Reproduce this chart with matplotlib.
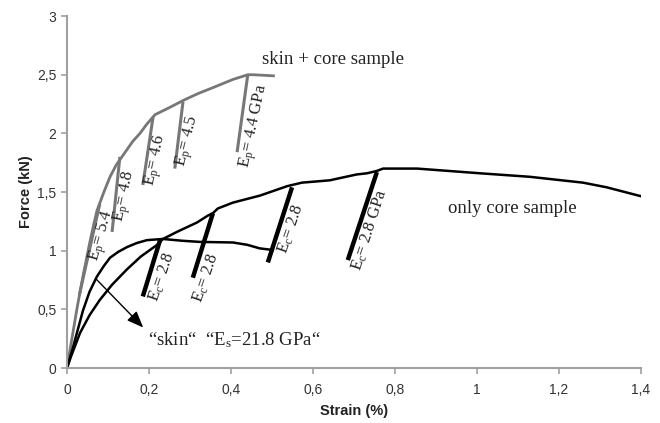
import matplotlib
matplotlib.use("Agg")
import matplotlib.pyplot as plt

# ---- data ----
skin_core_x = [0.0, 0.012, 0.025, 0.04, 0.055, 0.065, 0.073, 0.09, 0.105, 0.12, 0.134, 0.146,
               0.16, 0.178, 0.195, 0.215, 0.25, 0.283, 0.32, 0.356, 0.405, 0.441, 0.454, 0.507]
skin_core_y = [0.0, 0.25, 0.52, 0.80, 1.06, 1.22, 1.34, 1.50, 1.63, 1.73, 1.80, 1.86,
               1.93, 2.00, 2.08, 2.16, 2.22, 2.28, 2.34, 2.39, 2.46, 2.50, 2.50, 2.49]

core_x = [0.0, 0.01, 0.032, 0.055, 0.080, 0.11, 0.146, 0.18, 0.220, 0.234, 0.268, 0.317, 0.344,
          0.356, 0.368, 0.405, 0.471, 0.537, 0.549, 0.573, 0.641, 0.707, 0.732, 0.756, 0.771,
          0.854, 1.007, 1.129, 1.259, 1.317, 1.405]
core_y = [0.0, 0.10, 0.30, 0.45, 0.58, 0.71, 0.84, 0.95, 1.05, 1.10, 1.16, 1.24, 1.30,
          1.32, 1.36, 1.41, 1.47, 1.55, 1.56, 1.58, 1.60, 1.65, 1.66, 1.68, 1.70,
          1.70, 1.66, 1.63, 1.58, 1.54, 1.46]

skin_x = [0.0, 0.015, 0.039, 0.055, 0.073, 0.09, 0.105, 0.125, 0.146, 0.17, 0.195, 0.234,
          0.28, 0.324, 0.405, 0.44, 0.47, 0.502]
skin_y = [0.0, 0.18, 0.49, 0.65, 0.78, 0.87, 0.94, 0.99, 1.03, 1.065, 1.09, 1.10,
          1.085, 1.075, 1.07, 1.05, 1.02, 1.006]

# tangent (modulus) lines: [x_start, x_end], [y_start, y_end]
ep_lines = [([0.030, 0.080], [0.62, 1.40]),
            ([0.110, 0.129], [1.16, 1.80]),
            ([0.185, 0.210], [1.56, 2.14]),
            ([0.263, 0.283], [1.70, 2.27]),
            ([0.415, 0.441], [1.84, 2.50])]
ec_lines = [([0.185, 0.227], [0.61, 1.09]),
            ([0.307, 0.356], [0.77, 1.32]),
            ([0.490, 0.549], [0.90, 1.54]),
            ([0.685, 0.756], [0.92, 1.67])]

ep_labels = [r"E$_\mathrm{p}$= 5.4", r"E$_\mathrm{p}$= 4.8", r"E$_\mathrm{p}$= 4.6",
             r"E$_\mathrm{p}$= 4.5", r"E$_\mathrm{p}$= 4.4 GPa"]
ep_label_pos = [(0.086, 1.13), (0.143, 1.46), (0.217, 1.77), (0.295, 1.93), (0.457, 2.06)]
ep_label_rot = [74, 78, 78, 76, 78]

ec_labels = [r"E$_\mathrm{c}$= 2.8", r"E$_\mathrm{c}$= 2.8", r"E$_\mathrm{c}$= 2.8",
             r"E$_\mathrm{c}$= 2.8 GPa"]
ec_label_pos = [(0.231, 0.78), (0.339, 0.77), (0.548, 1.19), (0.738, 1.18)]
ec_label_rot = [71, 71, 71, 72]

x_ticks = [0, 0.2, 0.4, 0.6, 0.8, 1.0, 1.2, 1.4]
x_ticklabels = ["0", "0,2", "0,4", "0,6", "0,8", "1", "1,2", "1,4"]
y_ticks = [0, 0.5, 1.0, 1.5, 2.0, 2.5, 3.0]
y_ticklabels = ["0", "0,5", "1", "1,5", "2", "2,5", "3"]

# ---- styling ----
plt.rcParams["mathtext.fontset"] = "custom"
plt.rcParams["mathtext.rm"] = "Liberation Serif"
plt.rcParams["mathtext.it"] = "Liberation Serif:italic"
serif = "Liberation Serif"
sans = "Liberation Sans"
gray = "#777777"
axcol = "#a0a0a0"

fig = plt.figure(figsize=(6.6, 4.23), dpi=100)
ax = fig.add_axes([0.1015, 0.130, 0.8695, 0.832])

ax.plot(skin_core_x, skin_core_y, color=gray, lw=2.0, solid_capstyle="butt")
for xs, ys in ep_lines:
    ax.plot(xs, ys, color=gray, lw=2.2, solid_capstyle="butt")

ax.plot(skin_x, skin_y, color="black", lw=1.8)
ax.plot(core_x, core_y, color="black", lw=1.8)
for xs, ys in ec_lines:
    ax.plot(xs, ys, color="black", lw=3.2, solid_capstyle="butt")

for lab, (x, y), r in zip(ep_labels, ep_label_pos, ep_label_rot):
    ax.text(x, y, lab, rotation=r, ha="center", va="center", fontsize=12,
            family=serif, color="#222222", rotation_mode="anchor")
for lab, (x, y), r in zip(ec_labels, ec_label_pos, ec_label_rot):
    ax.text(x, y, lab, rotation=r, ha="center", va="center", fontsize=12,
            family=serif, color="#222222", rotation_mode="anchor")

ax.annotate("", xy=(0.186, 0.345), xytext=(0.072, 0.755),
            arrowprops=dict(arrowstyle="-|>,head_length=1.0,head_width=0.4",
                            color="black", lw=1.0, shrinkA=0, shrinkB=0))

ax.text(0.476, 2.63, "skin + core sample", fontsize=13.5, family=serif,
        color="#222222", ha="left", va="center")
ax.text(0.93, 1.36, "only core sample", fontsize=13.5, family=serif,
        color="#222222", ha="left", va="center")
ax.text(0.198, 0.24, "\u201cskin\u201c  \u201cE$_\\mathrm{s}$=21.8 GPa\u201c", fontsize=13.5,
        family=serif, color="#222222", ha="left", va="center")

ax.set_xlim(0, 1.4)
ax.set_ylim(0, 3)
ax.set_xticks(x_ticks)
ax.set_xticklabels(x_ticklabels)
ax.set_yticks(y_ticks)
ax.set_yticklabels(y_ticklabels)

for s in ["top", "right"]:
    ax.spines[s].set_visible(False)
for s in ["left", "bottom"]:
    ax.spines[s].set_color(axcol)
    ax.spines[s].set_linewidth(1.5)
ax.tick_params(axis="both", colors=axcol, length=4, width=1.2, labelsize=10,
               labelcolor="#333333")
for lbl in ax.get_xticklabels() + ax.get_yticklabels():
    lbl.set_family(sans)
ax.tick_params(axis="x", pad=7)

ax.set_xlabel("Strain (%)", fontsize=10.5, fontweight="bold", family=sans,
              color="#222222", labelpad=5)
ax.set_ylabel("Force (kN)", fontsize=10.5, fontweight="bold", family=sans,
              color="#222222", labelpad=3)

fig.savefig("out.png", dpi=100)
